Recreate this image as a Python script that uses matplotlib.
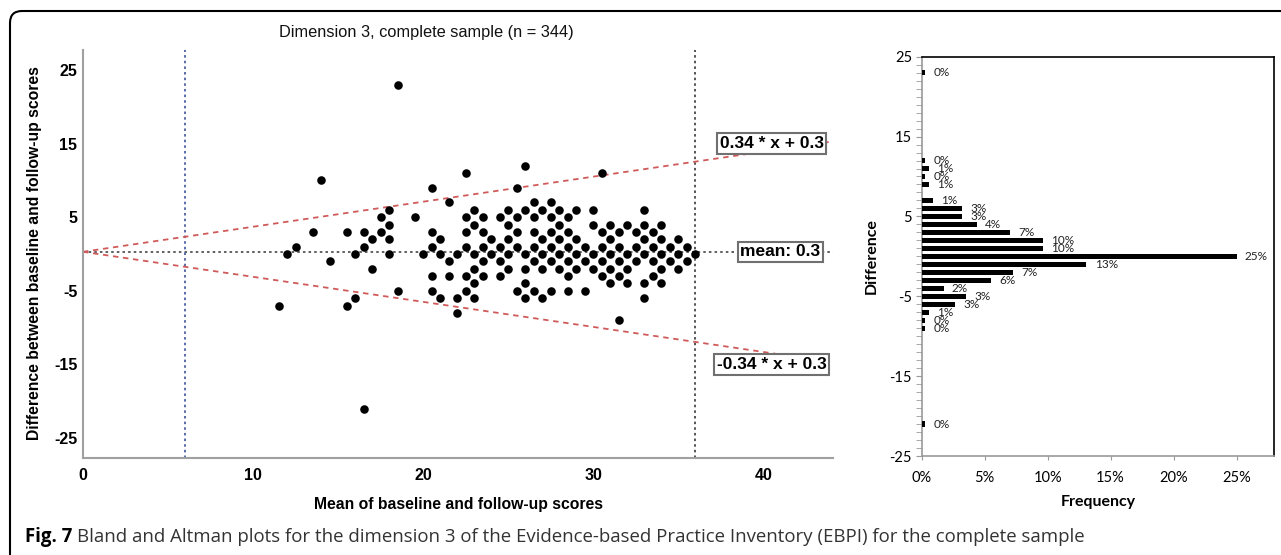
import numpy as np
import matplotlib
matplotlib.use("Agg")
import matplotlib.pyplot as plt
from matplotlib.patches import FancyBboxPatch
from matplotlib.transforms import IdentityTransform
from matplotlib.ticker import PercentFormatter, MultipleLocator

plt.rcParams["axes.unicode_minus"] = False

# scatter points: difference -> list of means (unique positions)
points_by_diff = {
    23: [18.5],
    12: [26],
    11: [22.5, 30.5],
    10: [14],
    9: [20.5, 25.5],
    7: [21.5, 26.5, 27.5],
    6: [18, 23, 25, 26, 27, 28, 29, 30, 33],
    5: [17.5, 19.5, 22.5, 23.5, 24.5, 25.5, 26.5, 27.5, 28.5],
    4: [18, 23, 25, 28, 30, 31, 32, 33, 34],
    3: [13.5, 15.5, 16.5, 17.5, 20.5, 22.5, 23.5, 25.5, 26.5, 27.5, 28.5,
        30.5, 31.5, 32.5, 33.5],
    2: [17, 18, 21, 24, 25, 27, 28, 29, 31, 33, 34, 35],
    1: [12.5, 16.5, 20.5, 22.5, 23.5, 24.5, 25.5, 26.5, 27.5, 28.5, 29.5,
        30.5, 31.5, 32.5, 33.5, 34.5, 35.5],
    0: [12, 16, 18, 20, 21, 22, 23, 24, 25, 26, 27, 28, 29, 30, 31, 32, 33,
        34, 35, 36],
    -1: [14.5, 21.5, 23.5, 24.5, 26.5, 27.5, 28.5, 29.5, 30.5, 31.5, 32.5,
         33.5, 34.5, 35.5],
    -2: [17, 23, 25, 26, 27, 28, 29, 30, 31, 32, 34, 35],
    -3: [20.5, 21.5, 22.5, 23.5, 24.5, 28.5, 30.5, 31.5, 33.5],
    -4: [23, 26, 31, 32, 33, 34],
    -5: [18.5, 20.5, 22.5, 25.5, 26.5, 27.5, 28.5, 29.5],
    -6: [16, 21, 22, 23, 26, 27, 33],
    -7: [11.5, 15.5],
    -8: [22],
    -9: [31.5],
    -21: [16.5],
}

mean_diff = 0.3
slope = 0.34
score_min, score_max = 6, 36

# histogram of differences (counts of subjects)
hist_diff = [23, 12, 11, 10, 9, 7, 6, 5, 4, 3, 2, 1, 0, -1, -2, -3, -4, -5,
             -6, -7, -8, -9, -21]
hist_count = [1, 1, 2, 1, 2, 3, 11, 11, 15, 24, 33, 33, 86, 45, 25, 19, 6,
              12, 9, 2, 1, 1, 1]
n_total = 344

W, H = 1281, 555
fig = plt.figure(figsize=(W / 100, H / 100), dpi=100)

# outer rounded frame
frame = FancyBboxPatch((10, -60), 1400, H - 11 + 60,
                       boxstyle="round,pad=0,rounding_size=12",
                       fc="none", ec="black", lw=1.5,
                       transform=IdentityTransform(), clip_on=False)
fig.add_artist(frame)

# ---------------- Bland-Altman plot ----------------
arial = "Liberation Sans"
ax = fig.add_axes([83 / W, (H - 458) / H, 750 / W, 408 / H])
mx, dy = [], []
for d, means in points_by_diff.items():
    mx += means
    dy += [d] * len(means)

ax.set_xlim(0, 44.1)
ax.set_ylim(-27.7, 27.7)

xx = np.array([0, 44.1])
ax.plot(xx, slope * xx + mean_diff, color="#d05a5a", lw=1.3,
        ls=(0, (3, 2.6)), zorder=2)
ax.plot(xx, -slope * xx + mean_diff, color="#d05a5a", lw=1.3,
        ls=(0, (3, 2.6)), zorder=2)
ax.axhline(mean_diff, color="#606060", lw=1.4, ls=(0, (1.3, 1.6)), zorder=1)
ax.axvline(score_min, color="#5a6aa8", lw=1.4, ls=(0, (1.3, 1.6)), zorder=1)
ax.axvline(score_max, color="#555555", lw=1.4, ls=(0, (1.3, 1.6)), zorder=1)

ax.scatter(mx, dy, s=38, color="black", linewidths=0, zorder=3)

box = dict(boxstyle="square,pad=0.15", fc="white", ec="#707070", lw=1.5)
ax.text(40.5, 15.0, "0.34 * x + 0.3", ha="center", va="center",
        fontsize=12.5, fontweight="bold", family=arial, bbox=box, zorder=5)
ax.text(41.0, 0.3, "mean: 0.3", ha="center", va="center",
        fontsize=12.5, fontweight="bold", family=arial, bbox=box, zorder=5)
ax.text(40.5, -15.0, "-0.34 * x + 0.3", ha="center", va="center",
        fontsize=12.5, fontweight="bold", family=arial, bbox=box, zorder=5)

for s in ["top", "right"]:
    ax.spines[s].set_visible(False)
for s in ["left", "bottom"]:
    ax.spines[s].set_color("#a0a0a0")
    ax.spines[s].set_linewidth(1.5)
ax.set_xticks([0, 10, 20, 30, 40])
ax.set_yticks([25, 15, 5, -5, -15, -25])
ax.tick_params(length=0, labelsize=11.5)
ax.tick_params(axis="y", pad=4)
ax.tick_params(axis="x", pad=7)
for lab in ax.get_xticklabels() + ax.get_yticklabels():
    lab.set_fontweight("bold")
    lab.set_family(arial)

ax.set_xlabel("Mean of baseline and follow-up scores", fontsize=11.3,
              fontweight="bold", family=arial)
ax.xaxis.set_label_coords(0.501, -0.115)
ax.xaxis.label.set_va("center")
ax.set_ylabel("Difference between baseline and follow-up scores",
              fontsize=11.3, fontweight="bold", family=arial)
ax.yaxis.set_label_coords(-0.064, 0.502)
ax.yaxis.label.set_va("center")

fig.text(426 / W, 1 - 33 / H, "Dimension 3, complete sample (n = 344)",
         ha="center", va="center", fontsize=11.8, family=arial,
         color="#111111")

# ---------------- histogram ----------------
lato = "Lato"
ax2 = fig.add_axes([921.7 / W, (H - 456) / H, 352.6 / W, 399.3 / H])
pct = np.array(hist_count) / n_total
ax2.barh(hist_diff, pct, height=0.65, color="black", zorder=3)
for d, p in zip(hist_diff, pct):
    ax2.annotate(f"{round(p * 100)}%", (p, d), xytext=(6, 0),
                 textcoords="offset points", va="center", ha="left",
                 fontsize=8.5, family=lato, color="#222222")

ax2.set_xlim(0, 0.28)
ax2.set_ylim(-25, 25)
ax2.set_xticks([0, 0.05, 0.10, 0.15, 0.20, 0.25])
ax2.xaxis.set_major_formatter(PercentFormatter(1.0, decimals=0))
ax2.set_yticks([25, 15, 5, -5, -15, -25])
ax2.yaxis.set_minor_locator(MultipleLocator(1))
ax2.tick_params(axis="y", which="both", length=4, color="#999999",
                labelsize=10.5, pad=3)
ax2.tick_params(axis="x", length=3, color="#999999", labelsize=10.5, pad=8)
for lab in ax2.get_xticklabels() + ax2.get_yticklabels():
    lab.set_family(lato)
ax2.spines["left"].set_color("#999999")
ax2.spines["left"].set_linewidth(1.2)
ax2.spines["bottom"].set_color("#999999")
ax2.spines["bottom"].set_linewidth(1.2)
ax2.spines["top"].set_linewidth(1.2)
ax2.spines["right"].set_linewidth(1.2)

ax2.set_xlabel("Frequency", fontsize=11.5, fontweight="bold", family=lato)
ax2.xaxis.set_label_coords(0.5, -0.1145)
ax2.xaxis.label.set_va("center")
ax2.set_ylabel("Difference", fontsize=11.5, fontweight="bold", family=lato)
ax2.yaxis.set_label_coords(-0.141, 0.5)
ax2.yaxis.label.set_va("center")

# ---------------- caption ----------------
cap_font = "Open Sans"
t1 = fig.text(25 / W, 1 - 537 / H, "Fig. 7", fontsize=13.4, fontweight="bold",
              family=cap_font, va="center", ha="left", color="black")
fig.canvas.draw()
bb = t1.get_window_extent()
fig.text((bb.x1 + 5) / W, 1 - 537 / H,
         "Bland and Altman plots for the dimension 3 of the Evidence-based "
         "Practice Inventory (EBPI) for the complete sample",
         fontsize=13.4, family=cap_font, va="center", ha="left",
         color="#333333")

fig.savefig("out.png", dpi=100)
